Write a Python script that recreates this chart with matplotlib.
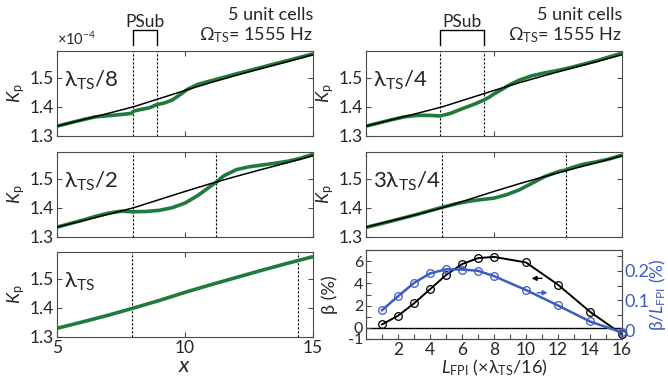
import matplotlib
matplotlib.use("Agg")
import matplotlib.pyplot as plt
import numpy as np

plt.rcParams['font.family'] = ['Lato', 'Noto Sans', 'DejaVu Sans']
plt.rcParams['mathtext.fontset'] = 'custom'
plt.rcParams['mathtext.rm'] = 'Lato'
plt.rcParams['mathtext.it'] = 'Lato:italic'
plt.rcParams['mathtext.sf'] = 'Lato'
plt.rcParams['mathtext.bf'] = 'Lato:bold'

# ---------------- data ----------------
# background (uniform) curve, Kp (x 1e-4)
x_base = [5, 6, 7, 8, 9, 10, 11, 12, 13, 14, 15]
k_base = [1.334, 1.356, 1.378, 1.401, 1.429, 1.457, 1.484, 1.509, 1.533, 1.556, 1.580]

# lambda/8
x_l8 = [5, 5.5, 6, 6.5, 7, 7.5, 7.9, 8.0, 8.3, 8.6, 8.9, 9.2, 9.5, 9.8, 10.1, 10.5, 11, 12, 13, 14, 15]
k_l8 = [1.334, 1.345, 1.356, 1.366, 1.370, 1.374, 1.378, 1.386, 1.392, 1.397, 1.408, 1.414, 1.424,
        1.442, 1.461, 1.478, 1.490, 1.514, 1.537, 1.560, 1.583]
# lambda/4
x_l4 = [5, 5.5, 6, 6.5, 7, 7.5, 7.9, 8.3, 8.7, 9.0, 9.3, 9.6, 9.8, 10.0, 10.3, 10.6, 11, 11.5,
        12, 12.5, 13, 14, 15]
k_l4 = [1.334, 1.345, 1.356, 1.366, 1.371, 1.371, 1.369, 1.378, 1.392, 1.402, 1.412, 1.424, 1.433,
        1.445, 1.460, 1.476, 1.493, 1.508, 1.518, 1.526, 1.536, 1.559, 1.586]
# lambda/2
x_l2 = [5, 5.5, 6, 6.5, 7, 7.5, 7.95, 8.5, 9, 9.5, 10, 10.5, 11, 11.25, 11.5, 12, 12.5, 13, 13.5,
        14, 14.5, 15]
k_l2 = [1.334, 1.346, 1.358, 1.371, 1.382, 1.389, 1.387, 1.388, 1.392, 1.401, 1.417, 1.443, 1.475,
        1.491, 1.510, 1.532, 1.542, 1.548, 1.554, 1.561, 1.571, 1.585]
# 3 lambda/4
x_l34 = [5, 6, 7, 7.95, 8.5, 9, 9.5, 10, 10.5, 11, 11.5, 12, 12.5, 12.8, 13, 13.5, 14, 14.5, 15]
k_l34 = [1.333, 1.355, 1.378, 1.402, 1.414, 1.423, 1.429, 1.434, 1.446, 1.463, 1.486, 1.509,
         1.525, 1.531, 1.538, 1.551, 1.559, 1.569, 1.582]
# lambda
x_l1 = [5, 6, 7, 8, 9, 10, 11, 12, 13, 14, 15]
k_l1 = [1.330, 1.352, 1.375, 1.400, 1.426, 1.454, 1.480, 1.505, 1.530, 1.554, 1.577]

# dashed boundaries (PSub edges)
bounds = {
    'l8': [7.95, 8.9],
    'l4': [7.9, 9.6],
    'l2': [7.95, 11.2],
    'l34': [7.95, 12.8],
    'l1': [7.93, 14.4],
}

# bottom right panel
L_fpi = [1, 2, 3, 4, 5, 6, 7, 8, 10, 12, 14, 16]
beta = [0.31, 1.09, 2.2, 3.47, 4.75, 5.73, 6.27, 6.38, 5.88, 3.88, 1.45, -0.58]
beta_per_L = [0.067, 0.114, 0.159, 0.191, 0.205, 0.204, 0.200, 0.182, 0.135, 0.083, 0.029, -0.008]

# ---------------- style ----------------
GREEN = '#1f7a3c'
BLUE = '#3c5cbe'
DARK = '#262626'
SPINE = '#4a4a4a'

W, H = 668, 390
fig = plt.figure(figsize=(W / 100, H / 100), dpi=100)


def ax_at(x0, y0, x1, y1):
    return fig.add_axes([x0 / W, 1 - y1 / H, (x1 - x0) / W, (y1 - y0) / H])


def style_kp(ax, show_x=False):
    ax.set_xlim(5, 15)
    ax.set_ylim(1.3, 1.593)
    ax.set_xticks([5, 10, 15])
    ax.set_yticks([1.3, 1.4, 1.5])
    ax.set_yticklabels(['1.3', '1.4', '1.5'])
    ax.tick_params(direction='in', top=True, right=True, length=3.5, width=0.8,
                   labelsize=12.5, colors=SPINE, labelcolor=DARK, pad=2)
    if not show_x:
        ax.tick_params(labelbottom=False)
    else:
        ax.set_xticklabels(['5', '10', '15'])
    for s in ax.spines.values():
        s.set_color(SPINE)
        s.set_linewidth(0.8)
    ax.set_ylabel(r'$\mathit{K}_{\mathrm{p}}$', fontsize=13, color=DARK, labelpad=2)


def draw_panel(ax, xg, kg, bnd, label, black=True):
    if black:
        ax.plot(x_base, k_base, color='black', lw=1.1, zorder=4)
    ax.plot(xg, kg, color=GREEN, lw=2.6, zorder=3, solid_capstyle='butt')
    for b in bnd:
        ax.axvline(b, color='black', lw=0.8, ls=(0, (2, 1.6)), zorder=2)
    ax.text(0.027, 0.58, label, transform=ax.transAxes, fontsize=16, color=DARK,
            ha='left', va='baseline')


LX0, LX1 = 57, 313
RX0, RX1 = 366, 622
rows = [(51, 136), (152, 237), (252, 337)]

ax1 = ax_at(LX0, rows[0][0], LX1, rows[0][1])
ax2 = ax_at(RX0, rows[0][0], RX1, rows[0][1])
ax3 = ax_at(LX0, rows[1][0], LX1, rows[1][1])
ax4 = ax_at(RX0, rows[1][0], RX1, rows[1][1])
ax5 = ax_at(LX0, rows[2][0], LX1, rows[2][1])
ax6 = ax_at(RX0, 250, RX1, 339)

for a in (ax1, ax2, ax3, ax4):
    style_kp(a)
style_kp(ax5, show_x=True)

draw_panel(ax1, x_l8, k_l8, bounds['l8'], 'λ$_{\\mathrm{TS}}$/8')
draw_panel(ax2, x_l4, k_l4, bounds['l4'], 'λ$_{\\mathrm{TS}}$/4')
draw_panel(ax3, x_l2, k_l2, bounds['l2'], 'λ$_{\\mathrm{TS}}$/2')
draw_panel(ax4, x_l34, k_l34, bounds['l34'], '3λ$_{\\mathrm{TS}}$/4')
draw_panel(ax5, x_l1, k_l1, bounds['l1'], 'λ$_{\\mathrm{TS}}$', black=False)

ax5.set_xlabel(r'$\mathit{x}$', fontsize=16, color=DARK, labelpad=0)

# header annotations for top panels
for a, key in ((ax1, 'l8'), (ax2, 'l4')):
    b0, b1 = bounds[key]
    tr = a.get_xaxis_transform()
    a.plot([b0, b0, b1, b1], [1.07, 1.247, 1.247, 1.07], color='black', lw=1.0,
           transform=tr, clip_on=False)
    a.text((b0 + b1) / 2, 1.285, 'PSub', transform=tr, ha='center', va='baseline',
           fontsize=12.5, color=DARK)
    a.text(1.0, 1.365, '5 unit cells', transform=a.transAxes, ha='right', va='baseline',
           fontsize=13, color=DARK)
    a.text(1.0, 1.13, 'Ω$_{\\mathrm{TS}}$= 1555 Hz', transform=a.transAxes, ha='right',
           va='baseline', fontsize=13, color=DARK)
ax1.text(0.0, 1.07, '×10$^{-4}$', transform=ax1.transAxes, ha='left', va='baseline',
         fontsize=10.5, color=DARK)

# ---------------- bottom right ----------------
ax6.set_xlim(0, 16)
ax6.set_ylim(-1, 7)
ax6.axhline(0, color='black', lw=1.0, zorder=1)
ax6.plot(L_fpi, beta, color='black', lw=1.4, marker='o', ms=5.5, mfc='none', mew=0.9,
         clip_on=False, zorder=4)
ax6.set_xticks(range(1, 17))
ax6.set_xticklabels([str(v) if v % 2 == 0 else '' for v in range(1, 17)])
ax6.set_yticks(range(-1, 8))
ax6.set_yticklabels(['-1', '0', '', '2', '', '4', '', '6', ''])
ax6.tick_params(direction='in', length=3.5, width=0.8, labelsize=12.5, colors=SPINE,
                labelcolor=DARK, pad=2)
ax6.tick_params(axis='y', labelsize=11.5)
for s in ax6.spines.values():
    s.set_color(SPINE)
    s.set_linewidth(0.8)
ax6.set_xlabel('$\\mathit{L}_{\\mathrm{FPI}}$ (×λ$_{\\mathrm{TS}}$/16)', fontsize=13,
               color=DARK, labelpad=0)
ax6.set_ylabel('β (%)', fontsize=13, color=DARK, labelpad=7)
ax6.annotate('', xy=(10.35, 4.45), xytext=(11.0, 4.45),
             arrowprops=dict(arrowstyle='-|>', color='black', lw=1.0,
                             mutation_scale=7, shrinkA=0, shrinkB=0))

ax7 = ax6.twinx()
ax7.set_ylim(-0.03, 0.27)
ax7.plot(L_fpi, beta_per_L, color=BLUE, lw=1.8, marker='o', ms=5.5, mfc='none', mew=0.9,
         clip_on=False, zorder=3)
ax7.set_yticks([0, 0.05, 0.1, 0.15, 0.2, 0.25])
ax7.set_yticklabels(['0', '', '0.1', '', '0.2', ''])
ax7.tick_params(direction='in', length=3.5, width=0.8, labelsize=13, colors=SPINE,
                labelcolor=BLUE, pad=2)
for s in ax7.spines.values():
    s.set_color(SPINE)
    s.set_linewidth(0.8)
ax7.set_ylabel('β/$\\mathit{L}_{\\mathrm{FPI}}$ (%)', fontsize=12.5, color=BLUE, labelpad=-2)
ax7.annotate('', xy=(11.35, 0.126), xytext=(10.7, 0.126),
             arrowprops=dict(arrowstyle='-|>', color=BLUE, lw=1.0,
                             mutation_scale=7, shrinkA=0, shrinkB=0))

fig.savefig('out.png', dpi=100)
